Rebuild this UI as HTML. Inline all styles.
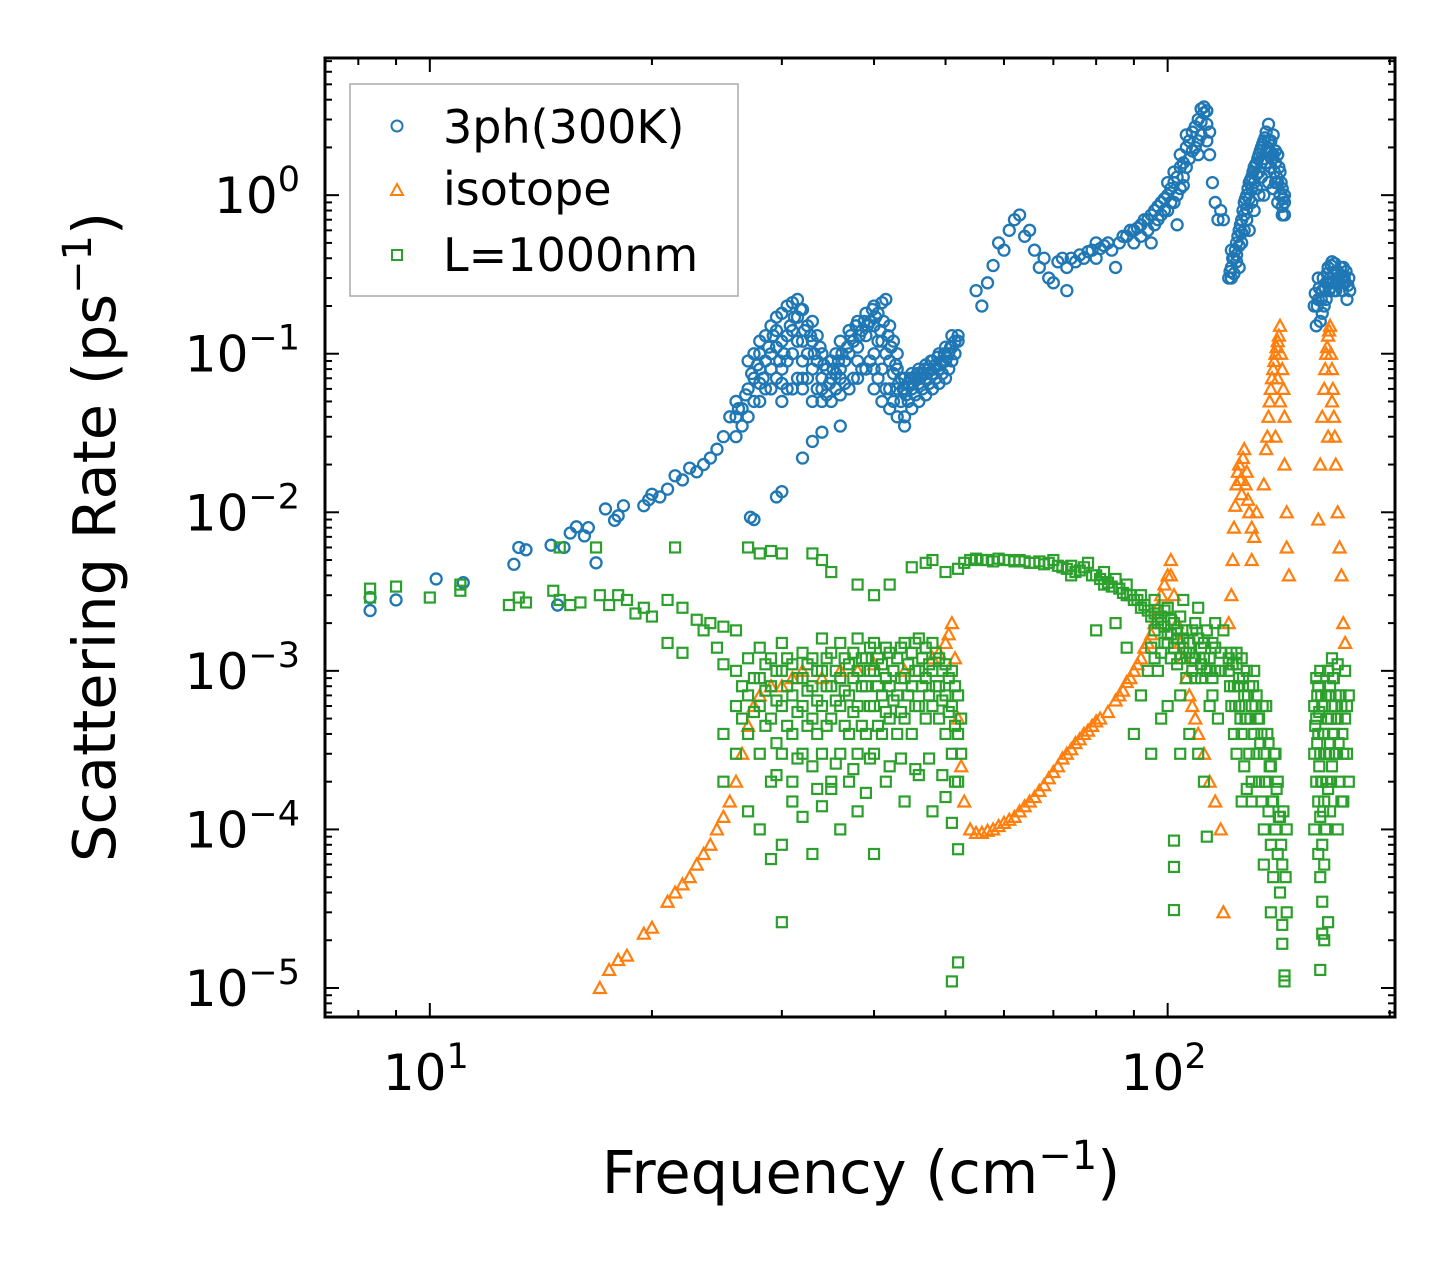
<!DOCTYPE html>
<html><head><meta charset="utf-8"><style>
html,body{margin:0;padding:0;background:#fff;}
svg text{font-family:"DejaVu Sans","Liberation Sans",sans-serif;fill:#000;}
</style></head><body>
<svg id="chart" width="1455" height="1265" xmlns="http://www.w3.org/2000/svg">
<rect width="1455" height="1265" fill="#fff"/>
<g id="marks"></g>
<g id="axes"></g>
<text x="861" y="1193" font-size="59" text-anchor="middle">Frequency (cm<tspan font-size="40" dy="-24">−1</tspan><tspan dy="24">)</tspan></text>
<text transform="translate(115,537) rotate(-90)" font-size="59" text-anchor="middle">Scattering Rate (ps<tspan font-size="40" dy="-24">−1</tspan><tspan dy="24">)</tspan></text>
<g>
<rect x="350" y="84" width="388" height="212" fill="#fff" stroke="#aaa" stroke-width="1.5"/>
<g><circle cx="397" cy="126" r="5.5" fill="none" stroke="#1f77b4" stroke-width="2"/><text x="443" y="143" font-size="46">3ph(300K)</text></g>
<g><polygon points="397,184 403,195 391,195" fill="none" stroke="#ff7f0e" stroke-width="2"/><text x="443" y="205" font-size="46">isotope</text></g>
<g><rect x="392" y="250" width="10" height="10" fill="none" stroke="#2ca02c" stroke-width="2"/><text x="443" y="271" font-size="46">L=1000nm</text></g>
</g>
</svg>
<script>
const xTicks=[10,100];
const xTickLabels=["1","2"];
const yTicks=[1,0.1,0.01,0.001,0.0001,0.00001];
const yTickLabels=["0","−1","−2","−3","−4","−5"];
const bluePoints=[[8.3,0.0024],[8.3,0.0029],[9,0.0028],[10.2,0.0038],[11.1,0.0036],[13,0.0047],[13.2,0.006],[13.5,0.0058],[14.6,0.0062],[14.9,0.0026],[15.2,0.006],[15.5,0.0074],[15.8,0.0081],[16.2,0.0071],[16.8,0.0048],[16.4,0.008],[17.3,0.0105],[17.8,0.0089],[18,0.0095],[18.3,0.011],[19.5,0.011],[19.8,0.012],[20,0.013],[20.5,0.0125],[21,0.014],[21.5,0.017],[22,0.016],[22.5,0.019],[23,0.018],[23.5,0.02],[24,0.022],[24.5,0.025],[25,0.03],[25.5,0.04],[27.2,0.0093],[27.5,0.009],[29.5,0.0125],[30,0.0135],[32,0.022],[33,0.028],[34,0.032],[36,0.035],[44,0.035],
[26,0.03],[26,0.04],[26,0.05],[27,0.04],[27,0.06],[27,0.09],[28,0.05],[28,0.08],[28,0.12],[28,0.1],[29,0.06],[29,0.1],[29,0.15],[29,0.08],[30,0.05],[30,0.12],[30,0.18],[30,0.08],[31,0.06],[31,0.14],[31,0.21],[31,0.1],[32,0.06],[32,0.12],[32,0.19],[32,0.09],[33,0.05],[33,0.08],[33,0.12],[33,0.16],[34,0.05],[34,0.07],[34,0.1],[35,0.05],[35,0.07],[35,0.09],[36,0.055],[36,0.08],[36,0.12],[37,0.06],[37,0.1],[37,0.14],[38,0.07],[38,0.11],[38,0.16],[39,0.08],[39,0.13],[39,0.18],[40,0.06],[40,0.1],[40,0.2],[40,0.15],[41,0.05],[41,0.08],[41,0.12],[41,0.21],[42,0.045],[42,0.06],[42,0.09],[42,0.15],[43,0.04],[43,0.06],[43,0.08],[43,0.1],[44,0.04],[44,0.06],[44,0.07],[45,0.045],[45,0.06],[45,0.075],[46,0.05],[46,0.065],[46,0.08],[47,0.055],[47,0.07],[47,0.085],[48,0.06],[48,0.075],[48,0.09],[49,0.065],[49,0.08],[49,0.1],[50,0.07],[50,0.09],[50,0.11],[51,0.09],[51,0.11],[51,0.13],[52,0.13],[52,0.12],
[26.5,0.035],[26.5,0.045],[27.5,0.05],[27.5,0.07],[27.5,0.1],[28.5,0.06],[28.5,0.09],[28.5,0.13],[29.5,0.07],[29.5,0.11],[29.5,0.14],[29.5,0.17],[30.5,0.06],[30.5,0.09],[30.5,0.13],[30.5,0.2],[31.5,0.07],[31.5,0.12],[31.5,0.17],[31.5,0.22],[32.5,0.07],[32.5,0.1],[32.5,0.15],[33.5,0.06],[33.5,0.09],[33.5,0.13],[34.5,0.055],[34.5,0.08],[35.5,0.06],[35.5,0.075],[35.5,0.1],[36.5,0.065],[36.5,0.09],[37.5,0.07],[37.5,0.12],[38.5,0.08],[38.5,0.14],[39.5,0.09],[39.5,0.16],[40.5,0.07],[40.5,0.12],[40.5,0.18],[41.5,0.06],[41.5,0.1],[41.5,0.22],[42.5,0.05],[42.5,0.075],[42.5,0.12],[43.5,0.05],[43.5,0.07],[44.5,0.05],[44.5,0.065],[45.5,0.055],[45.5,0.07],[46.5,0.06],[46.5,0.075],[47.5,0.065],[47.5,0.08],[48.5,0.07],[48.5,0.085],[49.5,0.075],[49.5,0.09],[50.5,0.08],[50.5,0.1],[51.5,0.1],[51.5,0.12],
[26.2,0.045],[26.8,0.055],[27.3,0.075],[27.8,0.085],[28.3,0.07],[28.8,0.11],[29.2,0.13],[29.8,0.09],[30.2,0.1],[30.8,0.15],[31.2,0.17],[31.8,0.19],[32.2,0.14],[32.8,0.13],[33.2,0.1],[33.8,0.11],[34.2,0.085],[34.8,0.065],[35.2,0.08],[35.8,0.09],[36.2,0.1],[36.8,0.11],[37.2,0.13],[37.8,0.15],[38.2,0.13],[38.8,0.16],[39.2,0.15],[39.8,0.19],[40.2,0.17],[40.8,0.14],[41.2,0.16],[41.8,0.13],[42.2,0.11],[42.8,0.085],[43.2,0.065],[43.8,0.06],[44.2,0.055],[44.8,0.07],[45.2,0.065],[45.8,0.075],[46.2,0.07],[46.8,0.08],[47.2,0.075],[47.8,0.09],[48.2,0.08],[48.8,0.095],[49.2,0.085],[49.8,0.1],[50.2,0.095],[50.8,0.11],[34,0.06],[36,0.07],[38,0.09],[40,0.08],[30,0.065],[32,0.07],[28,0.065],
[55,0.25],[56,0.2],[57,0.28],[58,0.36],[59,0.5],[60,0.45],[61,0.6],[62,0.7],[63,0.75],[64,0.55],[65,0.6],[66,0.45],[67,0.35],[68,0.4],[69,0.3],[70,0.28],[72,0.4],[73,0.35],[73,0.25],[75,0.38],[77,0.4],[79,0.45],[80,0.5],[80,0.4],[82,0.48],[84,0.45],[85,0.35],[86,0.5],[88,0.55],[90,0.6],[90,0.5],[92,0.65],[94,0.7],[95,0.5],[96,0.8],[98,0.9],[100,1.0],[100,0.8],[102,1.2],[103,0.65],[104,1.5],[105,1.3],[106,2.0],[108,2.5],[110,3.0],[110,2.2],[111,3.5],[112,3.3],[113,2.8],[114,1.8],[115,1.2],[116,0.9],[117,0.7],[118,0.8],[119,0.7],
[71,0.38],[74,0.4],[76,0.42],[78,0.44],[81,0.46],[83,0.5],[87,0.55],[89,0.6],[91,0.62],[93,0.7],[95,0.75],[97,0.85],[99,0.95],[101,1.1],[103,1.3],[105,1.6],[107,2.2],[109,2.7],[111,2.9],[112,3.6],[113,3.4],[114,2.5],[110,1.8],[108,1.9],[106,1.5],[104,1.1],[102,0.9],[98,0.75],[96,0.65],[94,0.6],[92,0.55],
[97,0.7],[99,0.8],[101,0.9],[103,1.0],[105,1.15],[107,1.7],[109,2.0],[111,2.4],[113,2.2],[100,1.2],[102,1.4],[104,1.8],[106,2.4],
[121,0.3],[122,0.35],[123,0.4],[124,0.5],[125,0.6],[126,0.7],[127,0.9],[128,1.0],[129,1.2],[130,1.3],[131,1.5],[132,1.6],[133,1.8],[134,2.0],[135,2.2],[136,2.5],[137,2.8],[138,2.2],[139,1.8],[140,1.6],[141,1.2],[142,1.0],[143,0.85],[144,0.75],[122,0.45],[124,0.38],[126,0.5],[128,0.7],[130,0.9],[132,1.1],[134,1.3],[136,1.6],[138,1.5],[140,1.2],[135,1.0],[129,0.6],[125,0.35],
[121.5,0.33],[122.5,0.4],[123.5,0.45],[124.5,0.55],[125.5,0.65],[126.5,0.8],[127.5,0.95],[128.5,1.1],[129.5,1.25],[130.5,1.4],[131.5,1.55],[132.5,1.7],[133.5,1.9],[134.5,2.1],[135.5,2.3],[136.5,2.0],[137.5,1.9],[138.5,1.7],[139.5,1.4],[140.5,1.3],[141.5,1.5],[142.5,1.2],[143.5,0.95],[123,0.32],[127,0.6],[131,0.8],[133,1.0],[137,1.2],[139,1.1],[141,0.9],[143,0.75],[144,1.0],
[122,0.3],[124,0.42],[126,0.58],[128,0.82],[130,1.1],[132,1.35],[134,1.6],[136,1.9],[138,1.85],[140,1.9],[142,1.4],[144,0.9],[125,0.48],[127,0.75],[129,0.95],[131,1.2],[133,1.4],[135,1.7],[137,2.2],[139,2.4],[141,1.8],[143,1.1],
[158,0.2],[160,0.22],[162,0.25],[164,0.28],[166,0.3],[168,0.32],[170,0.33],[172,0.3],[174,0.28],[176,0.3],[159,0.15],[161,0.16],[163,0.2],[165,0.35],[167,0.38],[169,0.25],[171,0.28],[160,0.3],[168,0.25],[173,0.35],[175,0.22],[162,0.18],
[158.5,0.24],[159.5,0.2],[160.5,0.26],[161.5,0.22],[162.5,0.3],[163.5,0.26],[164.5,0.32],[165.5,0.25],[166.5,0.36],[167.5,0.28],[168.5,0.37],[169.5,0.32],[170.5,0.28],[171.5,0.35],[172.5,0.25],[173.5,0.3],[174.5,0.33],[175.5,0.27],[176.5,0.25],[164,0.22],[166,0.26],[170,0.3]];
const orangePoints=[[17,1e-5],[17.5,1.3e-5],[18,1.5e-5],[18.5,1.6e-5],[19.5,2.2e-5],[20,2.4e-5],[21,3.5e-5],[21.5,4e-5],[22,4.5e-5],[22.5,5e-5],[23,6e-5],[23.5,7e-5],[24,8e-5],[24.5,1e-4],[25,1.2e-4],[25.5,1.5e-4],[26,2e-4],[26.5,3e-4],[27,4.5e-4],[27.5,6e-4],[28,7e-4],[29,8e-4],[30,8e-4],[31,9e-4],[32,1e-3],[34,9e-4],[36,1e-3],[38,1e-3],[40,1.1e-3],[44,1e-3],[48,1.2e-3],[50,1.5e-3],[51,2e-3],[51.5,1.2e-3],[52,5e-4],[52.5,2.5e-4],[53,1.5e-4],[54,1e-4],[55,9.5e-5],[58,1e-4],[60,1.1e-4],[62,1.2e-4],[64,1.4e-4],[66,1.6e-4],[68,1.9e-4],[70,2.3e-4],[72,2.8e-4],[74,3.2e-4],[76,3.7e-4],[78,4.2e-4],[80,4.8e-4],[83,5.5e-4],[86,7e-4],[88,8.5e-4],[90,1e-3],[92,1.2e-3],[94,1.5e-3],[96,2e-3],[98,3e-3],[100,4e-3],[101,5e-3],[102,3e-3],[104,1.5e-3],[106,9e-4],[108,6e-4],[110,4e-4],[112,3e-4],[114,2e-4],[116,1.5e-4],[118,1e-4],[119,3e-5],
[56,9.5e-5],[57,9.8e-5],[59,1.05e-4],[61,1.15e-4],[63,1.3e-4],[65,1.5e-4],[67,1.75e-4],[69,2.1e-4],[71,2.5e-4],[73,3e-4],[75,3.5e-4],[77,4e-4],[79,4.5e-4],[81,5e-4],[85,6.5e-4],[87,7.5e-4],[89,9e-4],[91,1.1e-3],[93,1.4e-3],[95,1.7e-3],[97,2.5e-3],[99,3.5e-3],[101,4e-3],[103,2e-3],[105,1.2e-3],[107,7e-4],[109,5e-4],[49,1.3e-3],[50.5,1.7e-3],
[121,2e-3],[122,3e-3],[123,8e-3],[124,1.5e-2],[125,2e-2],[126,1.3e-2],[127,2.5e-2],[128,1.8e-2],[129,1e-2],[130,8e-3],[131,7e-3],[132,1e-2],[130,5e-3],[122.5,5e-3],[123.5,1.1e-2],[124.5,1.8e-2],[125.5,1.6e-2],[126.5,2.2e-2],[127.5,1.5e-2],[128.5,1.2e-2],
[135,1.5e-2],[136,2.5e-2],[137,4e-2],[138,6e-2],[139,8e-2],[140,0.1],[141,0.12],[142,0.15],[143,0.08],[144,0.04],[144,0.02],[145,0.01],[145,0.006],[146,0.004],[140,0.03],[142,0.05],[141,0.07],[138.5,7e-2],[139.5,9e-2],[140.5,0.11],[141.5,0.13],[142.5,0.1],[143.5,0.06],[137.5,5e-2],[136.5,3e-2],
[160,0.009],[161,0.02],[162,0.04],[163,0.06],[164,0.1],[165,0.13],[166,0.15],[167,0.08],[168,0.04],[169,0.02],[170,0.01],[171,0.006],[172,0.004],[173,0.002],[174,0.0015],[165,0.03],[167,0.05],[163.5,0.08],[164.5,0.11],[165.5,0.14],[166.5,0.1],[167.5,0.06],[168.5,0.03]];
const greenPoints=[[8.3,0.0033],[8.3,0.0029],[9,0.0034],[10,0.0029],[11,0.0032],[11,0.0035],[12.8,0.0026],[13.2,0.0029],[13.5,0.0027],[14.7,0.0032],[15,0.006],[15,0.0028],[15.5,0.0026],[16,0.0027],[16.8,0.006],[17,0.003],[17.5,0.0026],[18,0.003],[18.5,0.0028],[19,0.0023],[19.5,0.0025],[20,0.0022],[21,0.0028],[21.5,0.006],[21,0.0015],[22,0.0025],[22,0.0013],[23,0.0021],[23.5,0.0018],[24,0.002],[24.5,0.0014],[25,0.0019],[25,0.0011],[26,0.0018],[27,0.006],[28,0.0055],[29,0.0057],[30,0.0055],[33,0.0055],[34,0.005],[35,0.0042],[38,0.0035],[40,0.003],[42,0.0035],[45,0.0045],[47,0.0048],[48,0.005],[50,0.0042],[52,0.0044],[54,0.005],[56,0.005],[60,0.005],[65,0.0048],[70,0.005],[72,0.0045],[75,0.0042],[78,0.0048],[80,0.004],[82,0.0035],[85,0.0038],[88,0.003],[90,0.0028],[92,0.0025],[95,0.0022],[98,0.002],[100,0.0015],[102,0.002],[104,0.0012],[106,0.0018],[108,0.001],[110,0.0025],[112,0.0015],[114,0.0012],[116,0.002],[85,0.002],[80,0.0018],
[53,0.0048],[55,0.0051],[57,0.005],[58,0.0049],[59,0.0051],[61,0.005],[62,0.0049],[63,0.005],[64,0.0049],[66,0.0048],[67,0.0049],[68,0.0047],[69,0.0048],[71,0.0046],[73,0.0044],[74,0.0046],[76,0.0043],[77,0.0045],[79,0.004],[81,0.0038],[83,0.0036],[84,0.0034],[86,0.0033],[87,0.0031],[89,0.003],[91,0.0028],[93,0.0026],[94,0.0024],[96,0.0023],[97,0.0021],[99,0.0019],[101,0.0017],[103,0.0016],[105,0.0014],[107,0.0013],[109,0.0012],[111,0.0011],[113,0.001],[115,0.0009],[74,0.004],[82,0.0042],[88,0.0035],[92,0.003],[100,0.0025],[96,0.0028],
[26,3e-4],[26,6e-4],[26,1e-3],[27,4e-4],[27,7e-4],[27,1.2e-3],[28,3e-4],[28,6e-4],[28,9e-4],[28,1.4e-3],[29,2e-4],[29,5e-4],[29,8e-4],[29,1.2e-3],[30,3e-4],[30,6e-4],[30,1e-3],[30,1.5e-3],[31,2e-4],[31,4e-4],[31,7e-4],[31,1.1e-3],[32,3e-4],[32,6e-4],[32,9e-4],[32,1.3e-3],[33,2.5e-4],[33,5e-4],[33,8e-4],[33,1.2e-3],[34,3e-4],[34,6e-4],[34,1e-3],[34,1.6e-3],[35,2e-4],[35,5e-4],[35,8e-4],[35,1.3e-3],[36,3e-4],[36,6e-4],[36,9e-4],[36,1.5e-3],[37,4e-4],[37,7e-4],[37,1.1e-3],[38,3e-4],[38,6e-4],[38,1e-3],[38,1.6e-3],[39,4e-4],[39,8e-4],[39,1.2e-3],[40,3e-4],[40,6e-4],[40,1e-3],[40,1.5e-3],[41,4e-4],[41,7e-4],[41,1.1e-3],[42,5e-4],[42,8e-4],[42,1.3e-3],[43,4e-4],[43,7e-4],[43,1.2e-3],[44,5e-4],[44,9e-4],[44,1.5e-3],[45,4e-4],[45,8e-4],[45,1.3e-3],[46,6e-4],[46,1e-3],[46,1.6e-3],[47,5e-4],[47,9e-4],[47,1.4e-3],[48,6e-4],[48,1e-3],[48,1.5e-3],[49,5e-4],[49,8e-4],[49,1.2e-3],[50,4e-4],[50,7e-4],[50,1.1e-3],[51,3e-4],[51,6e-4],[51,1e-3],[52,2e-4],[52,4e-4],[52,7e-4],
[26.5,5e-4],[26.5,8e-4],[27.5,5.5e-4],[27.5,9e-4],[28.5,4.5e-4],[28.5,7.5e-4],[28.5,1.1e-3],[29.5,3.5e-4],[29.5,6.5e-4],[29.5,1e-3],[30.5,4.5e-4],[30.5,8e-4],[30.5,1.2e-3],[31.5,5.5e-4],[31.5,9e-4],[32.5,4.5e-4],[32.5,7.5e-4],[32.5,1.1e-3],[33.5,4e-4],[33.5,6.5e-4],[33.5,1e-3],[34.5,4.5e-4],[34.5,8e-4],[34.5,1.2e-3],[35.5,6.5e-4],[35.5,1e-3],[36.5,4.5e-4],[36.5,7.5e-4],[36.5,1.2e-3],[37.5,5.5e-4],[37.5,9e-4],[37.5,1.3e-3],[38.5,4.5e-4],[38.5,8e-4],[38.5,1.2e-3],[39.5,6e-4],[39.5,1e-3],[39.5,1.4e-3],[40.5,4.5e-4],[40.5,8e-4],[40.5,1.2e-3],[41.5,5.5e-4],[41.5,9e-4],[41.5,1.4e-3],[42.5,6.5e-4],[42.5,1e-3],[43.5,5.5e-4],[43.5,9e-4],[43.5,1.4e-3],[44.5,7e-4],[44.5,1.1e-3],[45.5,6e-4],[45.5,1e-3],[45.5,1.5e-3],[46.5,8e-4],[46.5,1.2e-3],[47.5,7e-4],[47.5,1.1e-3],[48.5,8e-4],[48.5,1.3e-3],[49.5,6.5e-4],[49.5,1e-3],[50.5,5.5e-4],[50.5,9e-4],[51.5,4.5e-4],[51.5,8e-4],[52.5,3e-4],[52.5,5e-4],
[27,1.3e-4],[28,1e-4],[29,6.5e-5],[30,8e-5],[31,1.5e-4],[32,1.2e-4],[33,7e-5],[34,1.4e-4],[35,1.8e-4],[36,1e-4],[37,2e-4],[38,1.3e-4],[39,1.7e-4],[40,7e-5],[42,2.5e-4],[44,1.5e-4],[46,2.2e-4],[48,1.3e-4],[50,1.6e-4],[51,1.1e-4],[52,7.5e-5],[52,1.45e-5],[51,1.1e-5],[30,2.6e-5],[25,2e-4],[25,4e-4],[29.5,2.2e-4],[31.5,2.8e-4],[33.5,1.8e-4],[35.5,2.6e-4],[37.5,2.4e-4],[39.5,2.8e-4],[41.5,2e-4],[43.5,2.8e-4],[45.5,2.4e-4],[47.5,2.8e-4],[49.5,2.2e-4],[51.5,2e-4],
[92,7e-4],[94,1e-3],[95,1.4e-3],[96,1.8e-3],[97,1e-3],[98,2.2e-3],[99,1.5e-3],[100,6e-4],[100,2.5e-3],[101,1.2e-3],[102,8.5e-5],[102,3.1e-5],[102,5.8e-5],[103,1.8e-3],[104,7e-4],[105,2.8e-3],[106,1.3e-3],[107,4e-4],[108,1.8e-3],[109,9e-4],[110,3e-4],[111,1.4e-3],[112,2e-4],[113,9e-5],[114,6e-4],[115,1.5e-3],[116,1e-3],[117,5e-4],[118,1.3e-3],[90,4e-4],[88,1.4e-3],[95,3e-4],[98,5e-4],[104,3e-4],
[96,1.2e-3],[97,2e-3],[98,1.3e-3],[99,2.4e-3],[100,1.7e-3],[101,2.1e-3],[102,1.4e-3],[103,1.1e-3],[104,2.2e-3],[105,1.6e-3],[106,9e-4],[107,1.5e-3],[108,1.2e-3],[109,2e-3],[110,1.6e-3],[111,9e-4],[112,1.2e-3],[113,1.8e-3],[114,1e-3],[115,7e-4],[116,1.4e-3],[118,1e-3],[119,1.8e-3],
[121,1e-3],[122,6e-4],[122,1.3e-3],[123,4e-4],[123,8e-4],[124,1.1e-3],[124,3e-4],[125,6e-4],[125,9e-4],[126,1.2e-3],[126,4e-4],[127,7e-4],[127,2.5e-4],[128,1e-3],[128,5e-4],[129,3e-4],[129,8e-4],[130,6e-4],[130,2e-4],[131,4e-4],[131,1e-3],[132,3e-4],[132,7e-4],[133,2e-4],[133,5e-4],[134,1.5e-4],[134,4e-4],[135,3e-4],[135,1e-4],[136,2e-4],[136,6e-4],[137,1.3e-4],[137,3.5e-4],[138,8e-5],[138,2.5e-4],[139,1.5e-4],[139,5e-5],[140,1e-4],[140,3e-4],[141,7e-5],[141,2e-4],[142,4e-5],[142,1.2e-4],[143,6e-5],[143,2.5e-5],[144,1.1e-5],[144,1.2e-5],[143,1.9e-5],[145,3e-5],[145,1e-4],[126,1.5e-4],[130,1.5e-4],[128,1.8e-4],[135,6e-5],[138,3e-5],
[121.5,8e-4],[122.5,1.1e-3],[123.5,6e-4],[124.5,8e-4],[125.5,5e-4],[126.5,9e-4],[127.5,5e-4],[128.5,7e-4],[129.5,5e-4],[130.5,8e-4],[131.5,6e-4],[132.5,5e-4],[133.5,3.5e-4],[134.5,6e-4],[135.5,2e-4],[136.5,4e-4],[137.5,2.5e-4],[138.5,1.5e-4],[139.5,3e-4],[140.5,1.8e-4],[141.5,1.2e-4],[142.5,8e-5],[143.5,1.3e-4],[144.5,5e-5],[121,1.2e-3],[124,1.3e-3],
[158,1e-4],[158,3e-4],[158,6e-4],[159,2e-4],[159,5e-4],[159,9e-4],[160,7e-5],[160,1.5e-4],[160,4e-4],[160,8e-4],[161,5e-5],[161,1.2e-4],[161,3e-4],[161,1e-3],[162,3.5e-5],[162,8e-5],[162,2e-4],[162,6e-4],[163,2e-5],[163,6e-5],[163,1.5e-4],[163,4e-4],[164,1e-4],[164,3e-4],[164,7e-4],[165,1.8e-4],[165,5e-4],[165,1e-3],[166,1.3e-4],[166,3.5e-4],[166,8e-4],[167,2.5e-4],[167,6e-4],[167,1.2e-3],[168,4e-4],[168,9e-4],[169,3e-4],[169,7e-4],[170,5e-4],[170,1.1e-3],[171,2e-4],[172,6e-4],[172,1.5e-4],[173,3e-4],[174,1e-3],[175,6e-4],[176,2e-4],[176,7e-4],[161,1.3e-5],[162,2.2e-5],[165,2.6e-5],[170,1e-4],[173,1.5e-4],
[158.5,4.5e-4],[159.5,3.5e-4],[159.5,7e-4],[160.5,2.5e-4],[160.5,5.5e-4],[161.5,2e-4],[161.5,7e-4],[162.5,1.3e-4],[162.5,4e-4],[163.5,1e-4],[163.5,3e-4],[164.5,2e-4],[164.5,5e-4],[165.5,3e-4],[165.5,7e-4],[166.5,2e-4],[166.5,5e-4],[167.5,4e-4],[167.5,9e-4],[168.5,3e-4],[168.5,6e-4],[169.5,5e-4],[170.5,3.5e-4],[171.5,7e-4],[172.5,4e-4],[174,5e-4],[175,3e-4]];

const X0=325,X1=1395,Y0=58,Y1=1017;
const lx0=Math.log10(7.21),lx1=Math.log10(203.3),ly0=-5.183,ly1=0.865;
function sx(f){return X0+(Math.log10(f)-lx0)/(lx1-lx0)*(X1-X0);}
function sy(r){return Y1-(Math.log10(r)-ly0)/(ly1-ly0)*(Y1-Y0);}
const NS="http://www.w3.org/2000/svg";
const marks=document.getElementById('marks');
const axes=document.getElementById('axes');
function mk(tag,attrs,parent){const e=document.createElementNS(NS,tag);for(const k in attrs)e.setAttribute(k,attrs[k]);parent.appendChild(e);return e;}

bluePoints.forEach(p=>{
  const c=mk('circle',{cx:sx(p[0]),cy:sy(p[1]),r:5.5,fill:'none',stroke:'#1f77b4','stroke-width':2.3},marks);
  
  
});
orangePoints.forEach(p=>{
  const x=sx(p[0]),y=sy(p[1]);
  const t=mk('polygon',{points:`${x},${y-6} ${x+6},${y+5} ${x-6},${y+5}`,fill:'none',stroke:'#ff7f0e','stroke-width':2.2},marks);
  
  
});
greenPoints.forEach(p=>{
  const x=sx(p[0]),y=sy(p[1]);
  const s=mk('rect',{x:x-5,y:y-5,width:10,height:10,fill:'none',stroke:'#2ca02c','stroke-width':2.2},marks);
  
  
});

const fr=mk('rect',{x:X0,y:Y0,width:X1-X0,height:Y1-Y0,fill:'none',stroke:'#000','stroke-width':3},axes);


for(let d=0;d<3;d++){for(let m=1;m<10;m++){const v=m*Math.pow(10,d);if(v<7.21||v>203.3)continue;const x=sx(v);const L=(m===1)?14:7;
  mk('line',{x1:x,y1:Y1,x2:x,y2:Y1-L,stroke:'#000','stroke-width':2},axes);
  mk('line',{x1:x,y1:Y0,x2:x,y2:Y0+L,stroke:'#000','stroke-width':2},axes);}}
xTicks.forEach((v,i)=>{
  const t=mk('text',{x:sx(v)-4,y:1090,'font-size':50,'text-anchor':'middle'},axes);
  
  
  t.innerHTML='10<tspan font-size="35" dy="-22">'+xTickLabels[i]+'</tspan>';
});
for(let d=-6;d<1;d++){for(let m=1;m<10;m++){const v=m*Math.pow(10,d);const lv=Math.log10(v);if(lv<ly0||lv>ly1)continue;const y=sy(v);const L=(m===1)?14:7;
  mk('line',{x1:X0,y1:y,x2:X0+L,y2:y,stroke:'#000','stroke-width':2},axes);
  mk('line',{x1:X1,y1:y,x2:X1-L,y2:y,stroke:'#000','stroke-width':2},axes);}}
yTicks.forEach((v,i)=>{
  const t=mk('text',{x:300,y:sy(v)+18,'font-size':50,'text-anchor':'end'},axes);
  
  
  t.innerHTML='10<tspan font-size="35" dy="-22">'+yTickLabels[i]+'</tspan>';
});
</script>
</body></html>
